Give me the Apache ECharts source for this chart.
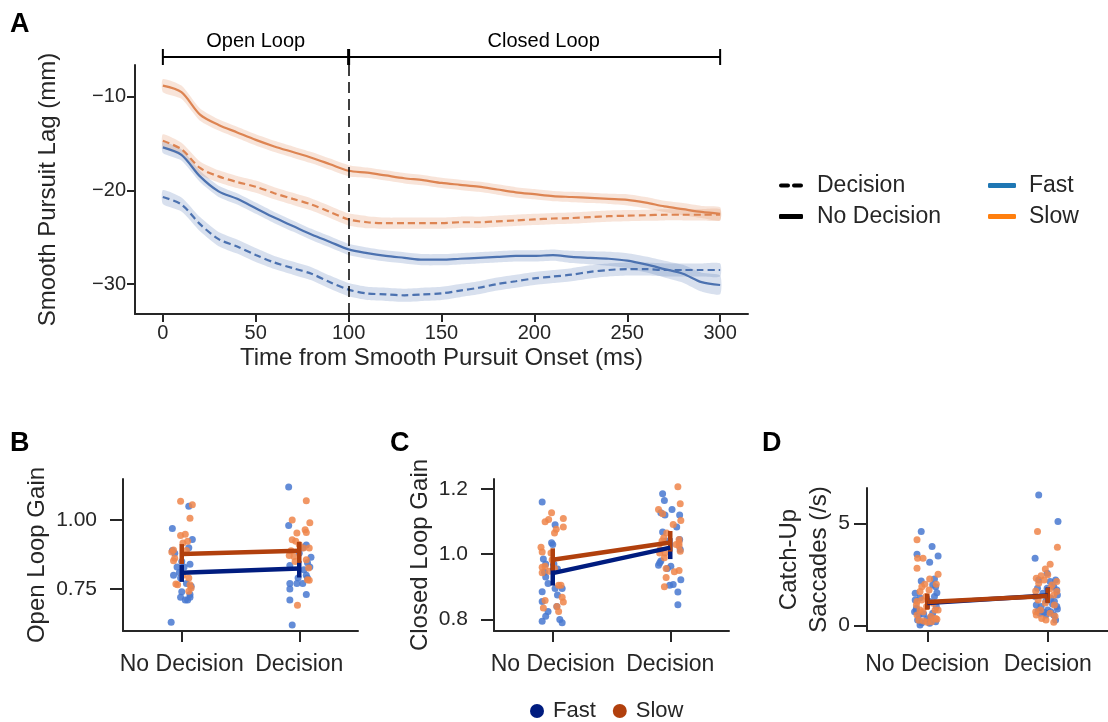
<!DOCTYPE html>
<html>
<head>
<meta charset="utf-8">
<script src="https://cdn.jsdelivr.net/npm/echarts@6/dist/echarts.min.js"></script>
<style>
html, body { margin: 0; background: #fff; }
#main { width: 1108px; height: 722px; }
</style>
</head>
<body>
<div id="main"></div>
<script>
// ---- panel A: smooth pursuit lag over time (ms) ----
var tA = [0,10,20,30,40,50,60,70,80,90,100,110,120,130,140,150,160,170,180,190,200,210,220,230,240,250,260,270,280,290,300];
var slowNoDec = [-8.8,-9.5,-11.9,-13.0,-13.8,-14.6,-15.3,-15.9,-16.5,-17.2,-17.9,-18.1,-18.4,-18.7,-18.9,-19.2,-19.4,-19.6,-19.9,-20.2,-20.4,-20.6,-20.7,-20.8,-20.9,-21.0,-21.3,-21.7,-22.0,-22.3,-22.5];
var slowDec = [-14.7,-15.6,-17.6,-18.5,-19.1,-19.6,-20.3,-20.9,-21.5,-22.3,-23.1,-23.4,-23.5,-23.5,-23.5,-23.5,-23.4,-23.4,-23.3,-23.2,-23.1,-23.0,-22.95,-22.85,-22.75,-22.7,-22.65,-22.6,-22.6,-22.6,-22.6];
var fastNoDec = [-15.4,-16.2,-18.5,-20.1,-20.9,-21.9,-22.9,-23.8,-24.7,-25.5,-26.3,-26.7,-27.0,-27.2,-27.4,-27.4,-27.3,-27.2,-27.1,-27.0,-27.0,-26.9,-27.1,-27.2,-27.3,-27.5,-27.9,-28.4,-28.9,-29.8,-30.1];
var fastDec = [-20.7,-21.5,-23.6,-25.2,-26.0,-26.9,-27.7,-28.3,-28.9,-29.8,-30.6,-31.0,-31.1,-31.2,-31.1,-31.0,-30.7,-30.4,-30.0,-29.7,-29.4,-29.2,-29.0,-28.7,-28.5,-28.4,-28.4,-28.5,-28.5,-28.5,-28.5];
// half-widths of the shaded bands
var ciSlowNoDec = [0.7,0.7,0.65,0.6,0.6,0.6,0.6,0.6,0.6,0.6,0.6,0.55,0.55,0.55,0.55,0.55,0.55,0.55,0.55,0.55,0.55,0.55,0.55,0.55,0.55,0.6,0.6,0.6,0.65,0.65,0.7];
var ciSlowDec = [0.7,0.7,0.7,0.65,0.65,0.65,0.65,0.65,0.65,0.65,0.65,0.65,0.6,0.6,0.6,0.6,0.6,0.6,0.6,0.6,0.6,0.6,0.6,0.6,0.6,0.6,0.6,0.6,0.6,0.6,0.6];
var ciFastNoDec = [0.6,0.6,0.6,0.6,0.6,0.6,0.6,0.6,0.6,0.6,0.6,0.6,0.6,0.6,0.6,0.6,0.6,0.6,0.6,0.6,0.6,0.6,0.65,0.7,0.75,0.8,0.85,0.9,0.95,1.0,1.0];
var ciFastDec = [0.75,0.75,0.75,0.75,0.75,0.75,0.7,0.7,0.7,0.7,0.7,0.7,0.7,0.7,0.7,0.7,0.7,0.7,0.7,0.7,0.7,0.7,0.7,0.7,0.7,0.7,0.7,0.7,0.7,0.7,0.7];
var xTicksA = [0,50,100,150,200,250,300];
var yTicksA = [-30,-20,-10];

// ---- panels B-D: [jitter, value] per subject ----
var conds = ['No Decision','Decision'];

var bFastNoDec = [[0.06,1.05],[-0.08,0.97],[0.09,0.93],[0.06,0.90],[-0.06,0.88],[-0.08,0.89],[0.0,0.85],[-0.04,0.83],[0.02,0.83],[0.07,0.84],[-0.07,0.80],[-0.01,0.79],[0.04,0.77],[0.08,0.76],[0.0,0.74],[0.07,0.73],[0.07,0.72],[-0.01,0.72],[0.05,0.71],[0.03,0.71],[-0.09,0.63],[-0.02,0.81]];
var bSlowNoDec = [[-0.01,1.068],[0.09,1.056],[0.07,1.007],[-0.01,0.944],[0.03,0.949],[0.05,0.923],[0.01,0.917],[-0.07,0.892],[-0.085,0.884],[-0.06,0.862],[-0.07,0.853],[0.04,0.89],[-0.05,0.768],[-0.035,0.766],[0.07,0.766],[0.08,0.754],[0.06,0.742],[0.01,0.80],[0.06,0.79]];
var bFastDec = [[-0.09,1.12],[-0.09,0.98],[0.06,0.91],[0.03,0.90],[0.10,0.865],[-0.08,0.835],[0.07,0.845],[0.09,0.83],[0.04,0.82],[0.06,0.80],[-0.01,0.79],[0.07,0.79],[-0.08,0.77],[-0.02,0.77],[0.03,0.77],[-0.08,0.75],[0.06,0.73],[-0.08,0.71],[-0.06,0.62],[0.0,0.88]];
var bSlowDec = [[0.06,1.07],[-0.06,1.0],[0.09,0.99],[0.05,0.965],[-0.02,0.953],[0.06,0.955],[-0.06,0.929],[-0.03,0.923],[0.0,0.911],[0.035,0.899],[0.085,0.899],[-0.07,0.889],[-0.045,0.868],[-0.085,0.872],[0.06,0.856],[0.08,0.826],[0.07,0.784],[0.085,0.782],[-0.015,0.691],[-0.035,0.85]];
var bFastMean = [0.809, 0.825];
var bFastErr = [[0.776,0.838],[0.792,0.852]];
var bSlowMean = [0.877, 0.889];
var bSlowErr = [[0.841,0.913],[0.845,0.921]];

var cFastNoDec = [[-0.09,1.16],[0.02,1.09],[-0.01,1.035],[0.0,1.03],[-0.08,0.985],[-0.06,0.97],[0.01,0.97],[-0.07,0.945],[0.04,0.955],[-0.06,0.93],[-0.04,0.91],[0.02,0.895],[0.08,0.895],[-0.09,0.885],[-0.09,0.855],[0.04,0.875],[-0.06,0.81],[-0.09,0.795],[0.06,0.80],[0.08,0.79],[-0.04,0.825],[0.035,0.84]];
var cSlowNoDec = [[-0.01,1.127],[-0.035,1.106],[-0.065,1.099],[0.09,1.109],[0.03,1.076],[0.015,1.065],[0.09,1.083],[-0.1,1.021],[-0.09,1.007],[-0.015,1.004],[-0.09,0.96],[-0.065,0.963],[-0.03,0.948],[-0.09,0.943],[0.015,0.956],[0.05,0.905],[0.07,0.905],[0.08,0.868],[0.09,0.854],[-0.065,0.858],[-0.08,0.835],[0.05,0.825],[0.035,0.84],[-0.005,0.983]];
var cFastDec = [[-0.065,1.185],[-0.05,1.164],[0.015,1.137],[-0.08,1.127],[0.08,1.12],[-0.045,1.12],[0.055,1.083],[-0.065,1.068],[0.08,1.045],[-0.035,1.04],[0.085,1.014],[-0.09,0.973],[-0.1,0.966],[0.005,0.963],[-0.025,0.956],[0.09,0.922],[0.025,0.907],[-0.005,0.905],[0.065,0.884],[0.065,0.845],[-0.08,0.979]];
var cSlowDec = [[0.065,1.206],[0.085,1.154],[-0.1,1.137],[-0.065,1.124],[0.09,1.103],[0.025,1.091],[-0.03,1.065],[-0.055,1.05],[0.075,1.045],[0.075,1.035],[-0.07,1.04],[0.075,1.025],[-0.085,1.014],[-0.045,1.004],[0.085,1.009],[-0.09,1.004],[-0.05,0.989],[0.075,0.95],[0.035,0.946],[-0.035,0.956],[-0.035,0.929],[-0.05,0.90],[0.05,1.03]];
var cFastMean = [0.942, 1.02];
var cFastErr = [[0.904,0.972],[0.985,1.049]];
var cSlowMean = [0.983, 1.036];
var cSlowErr = [[0.95,1.018],[1.008,1.071]];

var dFastNoDec = [[-0.05,4.61],[0.04,3.87],[0.09,3.41],[-0.085,3.49],[0.02,3.10],[-0.05,2.18],[0.06,2.28],[0.07,1.90],[0.045,1.98],[-0.1,1.57],[0.06,1.41],[-0.06,1.35],[-0.1,1.25],[0.02,1.17],[-0.09,0.84],[0.075,0.92],[-0.105,0.67],[-0.07,0.51],[-0.03,0.55],[0.045,0.59],[-0.08,0.26],[0.0,0.31],[0.07,0.18],[-0.06,0.02],[-0.045,0.12],[0.02,0.10],[-0.09,0.75],[0.08,1.6],[0.03,0.4]];
var dSlowNoDec = [[-0.085,4.20],[-0.08,3.30],[-0.035,3.30],[-0.085,2.80],[0.09,2.51],[0.02,2.28],[-0.02,2.02],[0.075,2.02],[-0.045,1.90],[0.015,1.74],[-0.06,1.66],[-0.01,1.41],[-0.085,1.17],[-0.045,1.25],[0.05,1.08],[-0.09,1.00],[-0.005,0.92],[0.065,0.75],[-0.06,0.75],[-0.035,0.67],[0.09,0.75],[0.03,0.43],[-0.03,0.21],[0.07,0.34],[0.0,0.15],[0.035,0.18],[-0.085,0.51],[0.08,0.3],[-0.07,0.25]];
var dFastDec = [[-0.075,6.41],[0.085,5.10],[-0.105,3.30],[-0.005,2.56],[-0.075,2.23],[0.02,2.15],[0.065,2.23],[-0.085,1.82],[0.05,1.90],[-0.005,1.82],[0.075,1.74],[-0.04,1.57],[0.08,1.49],[-0.105,1.41],[0.025,1.33],[-0.015,1.20],[0.055,1.17],[-0.095,1.00],[0.075,0.92],[-0.055,0.92],[0.0,0.75],[0.025,0.67],[-0.065,0.59],[-0.03,0.64],[0.05,0.51],[0.065,0.26],[-0.015,0.51],[0.08,0.8],[-0.08,0.7],[0.04,1.05]];
var dSlowDec = [[-0.085,4.61],[0.08,3.84],[0.02,3.00],[-0.02,2.77],[-0.055,2.44],[0.0,2.48],[-0.095,2.31],[0.075,2.15],[-0.03,2.23],[-0.075,2.07],[0.035,1.98],[0.075,1.66],[-0.1,1.69],[0.05,1.49],[0.0,1.41],[-0.08,1.25],[0.055,1.00],[-0.1,0.67],[-0.06,0.75],[0.02,0.59],[-0.095,0.51],[-0.05,0.34],[0.05,0.15],[-0.015,0.26],[0.06,0.45],[-0.02,1.1],[0.02,1.8]];
var dFastMean = [1.10, 1.46];
var dFastErr = [[0.80,1.42],[1.12,1.86]];
var dSlowMean = [1.15, 1.44];
var dSlowErr = [[0.77,1.56],[1.10,1.84]];

var FONT = '"Liberation Sans", Arial, sans-serif';
var INK = '#262626';
var deepBlue = '#4c72b0', deepOrange = '#dd8452';
var mutedBlue = '#4878d0', mutedOrange = '#ee854a';
var darkBlue = '#001c7f', darkOrange = '#b1400d';

function minusFmt(v) { return v < 0 ? '\u2212' + Math.abs(v) : String(v); }

function valAxis(o) {
    return {
        type: 'value', gridIndex: o.grid, min: o.min, max: o.max,
        splitLine: {show: false},
        axisPointer: {show: false},
        axisLine: {show: true, onZero: false, lineStyle: {color: INK, width: 2}},
        axisTick: {show: true, customValues: o.ticks, length: o.tickLen, lineStyle: {color: INK, width: 2}},
        axisLabel: {customValues: o.ticks, formatter: o.fmt, color: INK, fontSize: o.fs, fontFamily: FONT, margin: o.margin},
        name: o.name, nameLocation: 'middle', nameGap: o.nameGap,
        nameTextStyle: {color: INK, fontSize: o.nameFs, fontFamily: FONT, lineHeight: o.nameLh || o.nameFs * 1.2}
    };
}

function band(mean, ci, color) {
    return {
        type: 'custom', xAxisIndex: 0, yAxisIndex: 0, silent: true, z: 1,
        data: [[tA[0], mean[0]]],
        renderItem: function (params, api) {
            var pts = [], i;
            for (i = 0; i < tA.length; i++) pts.push(api.coord([tA[i], mean[i] + ci[i]]));
            for (i = tA.length - 1; i >= 0; i--) pts.push(api.coord([tA[i], mean[i] - ci[i]]));
            return {type: 'polygon', shape: {points: pts, smooth: 0.2}, style: {fill: color, opacity: 0.22}};
        }
    };
}

function lagLine(mean, color, dashed) {
    return {
        type: 'line', xAxisIndex: 0, yAxisIndex: 0, silent: true, z: 3,
        data: tA.map(function (t, i) { return [t, mean[i]]; }),
        symbol: 'none', smooth: 0.3,
        lineStyle: {color: color, width: 2.2, type: dashed ? [7, 4] : 'solid'}
    };
}

function scat(grid, pts, cat, color) {
    return {
        type: 'scatter', xAxisIndex: grid, yAxisIndex: grid, silent: true, z: 2,
        data: pts.map(function (p) { return [cat + p[0], p[1]]; }),
        symbolSize: 7, itemStyle: {color: color, opacity: 0.85}
    };
}

function meanLine(grid, name, means, color) {
    return {
        type: 'line', name: name, xAxisIndex: grid, yAxisIndex: grid, silent: true, z: 4,
        data: [[0, means[0]], [1, means[1]]],
        symbol: 'none', lineStyle: {color: color, width: 4.5}, itemStyle: {color: color}
    };
}

function errBars(grid, errs, color) {
    return {
        type: 'custom', xAxisIndex: grid, yAxisIndex: grid, silent: true, z: 4,
        data: errs.map(function (e, i) { return [i, e[0], e[1]]; }),
        encode: {x: 0, y: [1, 2]},
        renderItem: function (params, api) {
            var a = api.coord([api.value(0), api.value(1)]);
            var b = api.coord([api.value(0), api.value(2)]);
            return {type: 'line', shape: {x1: a[0], y1: a[1], x2: b[0], y2: b[1]}, style: {stroke: color, lineWidth: 4.5}};
        }
    };
}

function catAxis(grid) {
    return valAxis({grid: grid, min: -0.5, max: 1.5, ticks: [0, 1], tickLen: 11, fs: 23, margin: 22,
        fmt: function (v) { return conds[Math.round(v)]; }});
}

var chart = echarts.init(document.getElementById('main'));

var series = [
    band(fastDec, ciFastDec, deepBlue),
    band(fastNoDec, ciFastNoDec, deepBlue),
    band(slowDec, ciSlowDec, deepOrange),
    band(slowNoDec, ciSlowNoDec, deepOrange),
    lagLine(fastDec, deepBlue, true),
    lagLine(fastNoDec, deepBlue, false),
    lagLine(slowDec, deepOrange, true),
    lagLine(slowNoDec, deepOrange, false)
];
series[series.length - 1].markLine = {
    silent: true, symbol: 'none', label: {show: false},
    lineStyle: {color: '#000', width: 1.5, type: [11, 6]},
    data: [{xAxis: 100}]
};
// legend-only entries for panel A
[['Decision', '#000'], ['No Decision', '#000'], ['Fast', '#1f77b4'], ['Slow', '#ff7f0e']].forEach(function (d) {
    series.push({type: 'line', name: d[0], xAxisIndex: 0, yAxisIndex: 0, data: [], symbol: 'none',
        lineStyle: {color: d[1], width: 4}, itemStyle: {color: d[1]}});
});

var panels = [
    [1, bFastNoDec, bSlowNoDec, bFastDec, bSlowDec, bFastMean, bFastErr, bSlowMean, bSlowErr],
    [2, cFastNoDec, cSlowNoDec, cFastDec, cSlowDec, cFastMean, cFastErr, cSlowMean, cSlowErr],
    [3, dFastNoDec, dSlowNoDec, dFastDec, dSlowDec, dFastMean, dFastErr, dSlowMean, dSlowErr]
];
panels.forEach(function (p) {
    var g = p[0];
    series.push(scat(g, p[1], 0, mutedBlue), scat(g, p[3], 1, mutedBlue));
    series.push(scat(g, p[2], 0, mutedOrange), scat(g, p[4], 1, mutedOrange));
    series.push(meanLine(g, 'Fast mean', p[5], darkBlue), errBars(g, p[6], darkBlue));
    series.push(meanLine(g, 'Slow mean', p[7], darkOrange), errBars(g, p[8], darkOrange));
});

var letter = function (txt, left, top) {
    return {text: txt, left: left, top: top, padding: 0,
        textStyle: {fontFamily: FONT, fontSize: 27, fontWeight: 'bold', color: '#000'}};
};
var dashIcon = 'path://M2,0H9A2,2,0,0,1,9,4H2A2,2,0,0,1,2,0Z M15,0H22A2,2,0,0,1,22,4H15A2,2,0,0,1,15,0Z';
var legendText = {fontFamily: FONT, fontSize: 23, color: INK, padding: [0, 0, 0, 9]};

chart.setOption({
    animation: false,
    backgroundColor: '#fff',
    title: [letter('A', 10, 11), letter('B', 10, 430), letter('C', 390, 430), letter('D', 762, 430)],
    grid: [
        {left: 135, top: 65, width: 613, height: 249},
        {left: 123, top: 479, width: 235, height: 152},
        {left: 494, top: 479, width: 235, height: 152},
        {left: 867, top: 488, width: 249, height: 143}
    ],
    xAxis: [
        valAxis({grid: 0, min: -15, max: 315, ticks: xTicksA, tickLen: 8, fs: 20, margin: 9, fmt: minusFmt,
            name: 'Time from Smooth Pursuit Onset (ms)', nameGap: 29, nameFs: 24}),
        catAxis(1), catAxis(2), catAxis(3)
    ],
    yAxis: [
        valAxis({grid: 0, min: -33.2, max: -6.6, ticks: yTicksA, tickLen: 8, fs: 20, margin: 9, fmt: minusFmt,
            name: 'Smooth Pursuit Lag (mm)', nameGap: 72, nameFs: 24}),
        valAxis({grid: 1, min: 0.598, max: 1.149, ticks: [0.75, 1.0], tickLen: 13, fs: 21, margin: 26,
            fmt: function (v) { return v.toFixed(2); }, name: 'Open Loop Gain', nameGap: 67, nameFs: 24}),
        valAxis({grid: 2, min: 0.765, max: 1.23, ticks: [0.8, 1.0, 1.2], tickLen: 13, fs: 21, margin: 26,
            fmt: function (v) { return v.toFixed(1); }, name: 'Closed Loop Gain', nameGap: 59, nameFs: 24}),
        valAxis({grid: 3, min: -0.28, max: 6.75, ticks: [0, 5], tickLen: 13, fs: 21, margin: 17,
            fmt: function (v) { return String(v); }, name: 'Catch-Up\nSaccades (/s)', nameGap: 31, nameFs: 24, nameLh: 30})
    ],
    legend: [
        {data: [{name: 'Decision', icon: dashIcon}, {name: 'No Decision', icon: 'roundRect'}], orient: 'vertical',
            left: 779, top: 174, padding: 0, itemWidth: 24, itemHeight: 5, itemGap: 8,
            selectedMode: false, textStyle: legendText},
        {data: [{name: 'Fast', icon: 'roundRect'}, {name: 'Slow', icon: 'roundRect'}], orient: 'vertical',
            left: 988, top: 174, padding: 0, itemWidth: 28, itemHeight: 5, itemGap: 8,
            selectedMode: false, textStyle: {fontFamily: FONT, fontSize: 23, color: INK, padding: [0, 0, 0, 8]}},
        {data: [{name: 'Fast mean', icon: 'circle'}, {name: 'Slow mean', icon: 'circle'}], orient: 'horizontal',
            left: 530, top: 700, padding: 0, itemWidth: 14, itemHeight: 14, itemGap: 17, selectedMode: false,
            formatter: function (n) { return n.replace(' mean', ''); },
            textStyle: {fontFamily: FONT, fontSize: 22, color: INK, padding: [0, 0, 0, 4]}}
    ],
    series: series
});

// open / closed loop bracket above panel A
var bx = function (t) { return chart.convertToPixel({xAxisIndex: 0}, t); };
var bY = 57;
var stroke = {stroke: '#000', lineWidth: 2};
chart.setOption({
    graphic: [
        {type: 'line', shape: {x1: bx(0), y1: bY, x2: bx(300), y2: bY}, style: stroke},
        {type: 'line', shape: {x1: bx(0), y1: bY - 8, x2: bx(0), y2: bY + 8}, style: stroke},
        {type: 'line', shape: {x1: bx(100), y1: bY - 8, x2: bx(100), y2: bY + 8}, style: {stroke: '#000', lineWidth: 3}},
        {type: 'line', shape: {x1: bx(300), y1: bY - 8, x2: bx(300), y2: bY + 8}, style: stroke},
        {type: 'line', shape: {x1: bx(100), y1: bY + 8, x2: bx(100), y2: 65}, style: {stroke: '#000', lineWidth: 1.5, lineDash: [11, 6]}},
        {type: 'text', x: bx(50), y: bY - 6, style: {text: 'Open Loop', fontFamily: FONT, fontSize: 20, fill: '#000', textAlign: 'center', textVerticalAlign: 'bottom'}},
        {type: 'text', x: bx(205), y: bY - 6, style: {text: 'Closed Loop', fontFamily: FONT, fontSize: 20, fill: '#000', textAlign: 'center', textVerticalAlign: 'bottom'}}
    ]
});
</script>
</body>
</html>
